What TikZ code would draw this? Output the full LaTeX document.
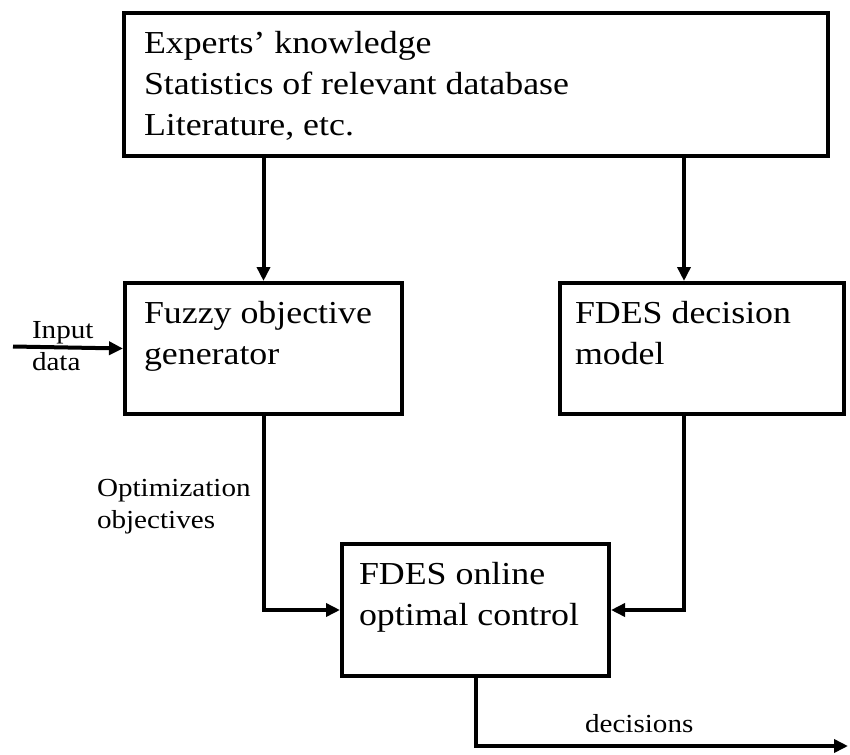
\documentclass[tikz,border=0pt]{standalone}
\usepackage{fontspec}
\setmainfont[FakeStretch=1.12]{Liberation Serif}
\usetikzlibrary{arrows.meta}

\begin{document}
\begin{tikzpicture}[->,>={Triangle[length=14pt,width=13pt]},x=1pt,y=1pt,
      line width=4pt,
      main node/.style={rectangle,draw,anchor=north west,inner sep=0},
      main text/.style={font=\fontsize{32}{41}\selectfont,align=left,
          inner sep=0,anchor=base west},
      side text/.style={font=\fontsize{26}{32}\selectfont,align=left,
          inner sep=0,anchor=base west}]

    \useasboundingbox (0,0) rectangle (850,-754);

    % boxes
    \node[main node,minimum width=704pt,minimum height=143pt] (know) at (122,-11) {};
    \node[main node,minimum width=277pt,minimum height=131pt] (fog) at (123,-281) {};
    \node[main node,minimum width=284pt,minimum height=131pt] (dm) at (558,-281) {};
    \node[main node,minimum width=267pt,minimum height=132pt] (ctrl) at (340,-542) {};

    % box texts (anchored at the baseline of the last line)
    \node[main text] (knowtxt) at ([shift={(20,-125)}]know.north west)
        {Experts’ knowledge\\Statistics of relevant database\\Literature, etc.};
    \node[main text] (fogtxt) at ([shift={(19,-83)}]fog.north west)
        {Fuzzy objective\\generator};
    \node[main text] (dmtxt) at ([shift={(15,-83)}]dm.north west)
        {FDES decision\\model};
    \node[main text] (ctrltxt) at ([shift={(17,-83)}]ctrl.north west)
        {FDES online\\optimal control};

    % free ends
    \coordinate (in) at (13,-346.5);
    \coordinate (out) at (848,-746);

    % side labels
    \node[side text] (intxt) at (30,-370) {Input\\data};
    \node[side text] (objtxt) at (95,-528) {Optimization\\objectives};
    \node[side text] (dectxt) at (583,-732) {decisions};

    % connectors
    \draw (know.south -| fog.north) -- (fog.north);
    \draw ([xshift=-18pt]know.south -| dm.north) -- ([xshift=-18pt]dm.north);
    \draw (in) -- (fog.west);
    \draw (fog.south) |- (ctrl.west);
    \draw ([xshift=-18pt]dm.south) |- (ctrl.east);
    \draw (ctrl.south) |- (out);

  \end{tikzpicture}
\end{document}
